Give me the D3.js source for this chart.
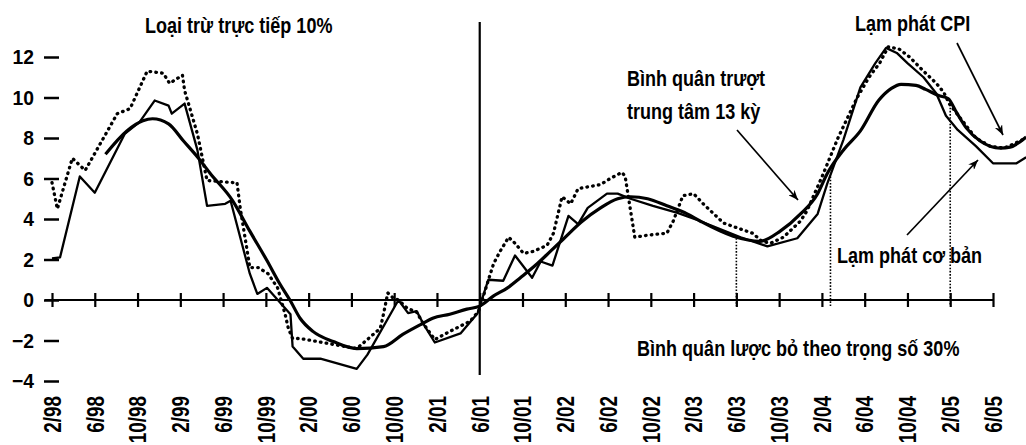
<!DOCTYPE html>
<html>
<head>
<meta charset="utf-8">
<script src="https://cdn.jsdelivr.net/npm/d3@7"></script>
<style>
  body { margin: 0; background: #fff; }
  text { font-family: "Liberation Sans", Arial, sans-serif; font-weight: bold; fill: #000; }
</style>
</head>
<body>
<svg id="chart"></svg>
<script>
// months counted from 2/98 (0) ; values in %
const tickLabels = ["2/98","6/98","10/98","2/99","6/99","10/99","2/00","6/00","10/00","2/01","6/01","10/01",
                    "2/02","6/02","10/02","2/03","6/03","10/03","2/04","6/04","10/04","2/05","6/05"];
const yTicks = [-4, -2, 0, 2, 4, 6, 8, 10, 12];

// dotted line : Lạm phát CPI
const cpiMonths = [0,0.5,1.9,3.1,6.1,7.3,8.9,10.4,11.0,12.2,12.4,13.6,14.5,16.9,17.3,17.6,18.2,18.5,19.3,20.2,21.1,21.8,22.1,22.5,
  23.2,28.5,30.7,31.0,31.4,31.9,32.4,33.2,34.1,34.7,35.8,37.2,39.1,39.9,40.7,41.3,41.9,42.7,43.3,44.1,45.0,46.3,46.9,47.7,48.5,
  49.2,51.3,52.2,53.3,53.6,54.5,55.7,57.5,58.1,59.0,60.0,60.9,62.8,64.4,65.5,66.4,67.2,68.4,70.0,70.6,72.1,73.5,75.3,76.4,77.4,
  78.2,79.2,80.2,81.5,82.7,83.4,83.9,85.5,86.4,87.7,89.0,89.9,91.1];
const cpiValues = [5.8,4.5,7.0,6.4,9.2,9.45,11.3,11.2,10.7,11.1,10.35,8.2,5.9,5.8,5.8,4.55,2.6,1.6,1.6,1.3,0.6,-0.7,-1.4,-1.9,
  -1.9,-2.4,-1.4,-0.7,0.35,0.1,0,-0.4,-0.6,-1.15,-1.95,-1.55,-1.05,-0.55,0.8,1.8,2.4,3.1,2.8,2.3,2.4,2.7,3.3,5.1,4.75,
  5.5,5.7,6.0,6.3,6.1,3.1,3.2,3.3,3.9,5.15,5.25,4.75,3.8,3.5,3.3,2.9,2.8,3.1,3.9,4.4,6.2,8.0,10.0,11.0,11.7,
  12.5,12.4,12.0,11.3,10.7,10.25,9.7,8.6,8.0,7.6,7.5,7.7,8.0];

// thin solid line : Lạm phát cơ bản
const coreMonths = [0,0.75,2.6,4.0,6.8,8.2,9.6,10.9,11.2,12.4,13.6,14.5,16.2,16.7,18.5,19.2,20.1,22.3,22.5,23.5,25.1,28.5,29.5,
  32.4,33.3,34.1,34.7,35.8,38.2,39.8,40.8,42.2,43.3,44.9,45.7,46.8,48.3,49.2,50.1,51.9,52.9,54.1,56.2,58.5,60.6,64.4,66.9,
  69.7,71.6,72.5,74.0,75.6,77.0,78.0,79.0,80.0,81.5,82.7,83.6,84.7,86.4,88.0,90.2,91.1];
const coreValues = [2.05,2.1,6.1,5.3,8.2,8.8,9.85,9.6,9.2,9.7,7.4,4.65,4.75,4.9,1.3,0.3,0.6,-0.7,-2.3,-2.9,-2.9,-3.4,-2.7,
  0,-0.65,-0.55,-1.15,-2.1,-1.65,-0.65,1.0,0.95,2.2,1.1,1.9,1.7,4.15,3.75,4.55,5.25,5.25,5.0,4.65,4.3,3.9,3.1,2.65,
  3.05,4.25,5.75,7.9,10.5,11.7,12.45,12.2,11.7,11.0,10.2,9.1,8.4,7.6,6.75,6.75,7.05];

// thick smooth line : Bình quân trượt trung tâm 13 kỳ
const avgMonths = [5.0,7.0,8.5,9.4,10.9,12.3,13.7,14.8,16.9,18.5,20.1,21.3,22.3,23.2,24.4,26.3,28.5,31.0,32.8,34.7,35.6,37.2,
  38.8,40.0,41.3,42.6,43.8,45.4,46.6,47.8,49.5,51.3,52.9,54.1,55.7,57.5,59.4,60.6,63.7,66.2,68.1,70.0,71.6,72.5,74.0,75.6,
  77.3,78.5,79.4,80.8,81.7,82.9,83.8,84.6,85.5,86.8,88.7,89.6,91.1];
const avgValues = [7.2,8.35,8.85,8.95,8.7,7.85,7.0,6.25,4.9,3.4,1.95,0.8,-0.05,-0.9,-1.55,-2.05,-2.4,-2.3,-1.7,-1.15,-0.9,-0.7,
  -0.45,-0.3,0.2,0.6,1.1,1.8,2.4,3.0,3.85,4.55,5.0,5.1,5.0,4.65,4.25,3.9,3.15,2.9,3.4,4.25,5.25,6.25,7.4,8.35,
  9.85,10.45,10.65,10.6,10.4,10.1,9.95,9.25,8.5,7.85,7.5,7.55,8.05];

// dotted guide lines
const guideMonths = [64, 72.8, 84];
const guideTops = [3.05, 6.1, 9.5];

const width = 1026, height = 445;
const narrow = 0.82;   // squeeze Liberation Sans to look like a narrow face
const svg = d3.select("#chart").attr("width", width).attr("height", height);

const x = d3.scaleLinear().domain([0, 88]).range([52, 993]);
const y = d3.scaleLinear().domain([-4, 12]).range([381, 57]);

svg.append("defs").append("marker")
    .attr("id", "arrow")
    .attr("viewBox", "0 0 10 8")
    .attr("refX", 10).attr("refY", 4)
    .attr("markerWidth", 10).attr("markerHeight", 8)
    .attr("markerUnits", "userSpaceOnUse")
    .attr("orient", "auto")
  .append("path")
    .attr("d", "M0,0 L10,4 L0,8 L3,4 Z")
    .attr("fill", "#000");

// y axis : dashes + labels, no line
const yAxis = svg.append("g")
    .attr("transform", "translate(59,0)")
    .call(d3.axisLeft(y).tickValues(yTicks).tickSize(15).tickPadding(10).tickFormat(d3.format("d")));
yAxis.select(".domain").remove();
yAxis.selectAll(".tick line").attr("stroke", "#000").attr("stroke-width", 2.5);
yAxis.selectAll(".tick text")
    .style("font-size", "21px")
    .attr("fill", "#000")
    .attr("x", 0)
    .attr("transform", `translate(-25,0) scale(0.92,1)`);

// x axis on the zero line
svg.append("line")
    .attr("x1", x(0) - 7).attr("x2", x(88))
    .attr("y1", y(0)).attr("y2", y(0))
    .attr("stroke", "#000").attr("stroke-width", 2.2);

const xAxis = svg.append("g")
    .attr("transform", `translate(0,${y(0)})`)
    .call(d3.axisBottom(x).tickValues(d3.range(0, 89, 4)).tickSize(7).tickFormat((d, i) => tickLabels[i]));
xAxis.select(".domain").remove();
xAxis.selectAll(".tick line").attr("y1", -7).attr("y2", 7).attr("stroke", "#000").attr("stroke-width", 2.2);
xAxis.selectAll(".tick text")
    .style("font-size", "23px")
    .attr("fill", "#000")
    .attr("text-anchor", "end")
    .attr("dy", "0.36em")
    .attr("transform", `translate(0,${396 - y(0)}) rotate(-90) scale(${narrow},1)`)
    .attr("x", 0).attr("y", 0);

// vertical line at 6/01
svg.append("line")
    .attr("x1", x(40)).attr("x2", x(40))
    .attr("y1", 22).attr("y2", 375)
    .attr("stroke", "#000").attr("stroke-width", 2.2);

svg.selectAll(".guide")
  .data(guideMonths)
  .join("line")
    .attr("class", "guide")
    .attr("x1", d => x(d)).attr("x2", d => x(d))
    .attr("y1", (d, i) => y(guideTops[i])).attr("y2", y(0) + 6)
    .attr("stroke", "#000").attr("stroke-width", 1.6)
    .attr("stroke-dasharray", "1.6 1.6");

function drawLine(months, values, curve, width, dash) {
  const line = d3.line()
      .x((d, i) => x(months[i]))
      .y(d => y(d))
      .curve(curve);
  const p = svg.append("path")
      .datum(values)
      .attr("d", line)
      .attr("fill", "none")
      .attr("stroke", "#000")
      .attr("stroke-width", width)
      .attr("stroke-linejoin", "round");
  if (dash) p.attr("stroke-dasharray", dash).attr("stroke-linecap", "round");
}

drawLine(avgMonths, avgValues, d3.curveMonotoneX, 3.2);
drawLine(coreMonths, coreValues, d3.curveLinear, 2.3);
drawLine(cpiMonths, cpiValues, d3.curveLinear, 3.3, "0.6 5.2");

// annotations
const label = (t, x0, y0) => svg.append("text")
    .attr("transform", `translate(${x0},${y0}) scale(${narrow},1)`)
    .style("font-size", "22px")
    .text(t);
label("Loại trừ trực tiếp 10%", 145, 33);
label("Lạm phát CPI", 855, 31);
label("Bình quân trượt", 627, 86);
label("trung tâm 13 kỳ", 627, 119);
label("Lạm phát cơ bản", 837, 263);
label("Bình quân lược bỏ theo trọng số 30%", 637, 356);

const arrow = (x1, y1, x2, y2) => svg.append("line")
    .attr("x1", x1).attr("y1", y1).attr("x2", x2).attr("y2", y2)
    .attr("stroke", "#000").attr("stroke-width", 1.7)
    .attr("marker-end", "url(#arrow)");
arrow(737, 130, 798, 200);
arrow(957, 43, 1003, 135);
arrow(907, 235, 978, 160);
</script>
</body>
</html>
